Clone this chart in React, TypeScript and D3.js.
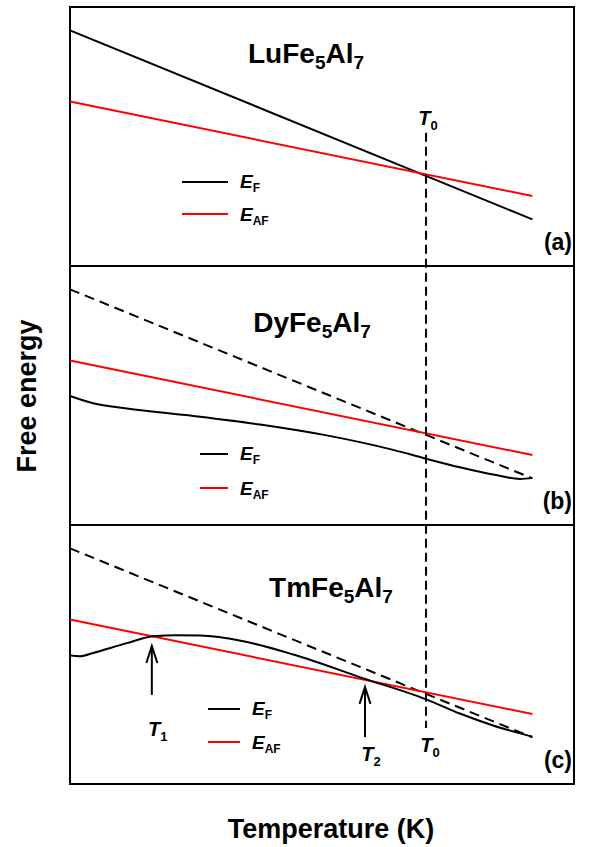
import React from 'react';
import * as d3 from 'd3';

// ---- data (arbitrary units) ----
const tempDomain = [0, 109];
const energyDomain = [0, 100];
const straightT = [0, 100];
const ferroStraight = [91, 18];
const antiferroStraight = [63.5, 27];
const dyT = [0, 5, 12.3, 26.7, 41.1, 55.5, 69.9, 77, 84.3, 91.5, 97.3, 100];
const dyEF = [49.8, 47.0, 45.0, 42.1, 38.8, 34.6, 29.0, 25.6, 22.3, 19.5, 17.8, 18.1];
const tmT = [0, 2.2, 5, 12.3, 18, 23.1, 28.1, 37.5, 48.3, 63.8, 77, 84.3, 91.5, 100];
const tmEF = [49.6, 49.3, 50.6, 54.4, 57.0, 57.4, 57.3, 55.1, 50.0, 40.6, 32.7, 27.2, 22.6, 18.3];
const T0 = 77;
const T1 = 17.7;
const T2 = 63.8;
const compounds = ['Lu', 'Dy', 'Tm'];
const panelLabels = ['(a)', '(b)', '(c)'];

// ---- layout ----
const W = 591, H = 847;
const left = 70, right = 574;
const panelTops = [7, 266, 525];
const panelH = 259;
const titleCx = [306, 312, 331];
const titleBase = [63, 332, 597];
const legendX = [[182, 228], [200, 228], [208, 240]];
const legendY = [[182, 214], [454, 488], [709, 742]];

const FONT = 'Liberation Sans, Arial, Helvetica, sans-serif';

const x = d3.scaleLinear().domain(tempDomain).range([left, right]);
const yScales = panelTops.map((t) =>
  d3.scaleLinear().domain(energyDomain).range([t + panelH, t])
);

function pts(ts: number[], es: number[]) {
  return ts.map((t, i) => [t, es[i]] as [number, number]);
}

function Title({ i }: { i: number }) {
  return (
    <text x={titleCx[i]} y={titleBase[i]} textAnchor="middle" fontFamily={FONT} fontWeight="bold" fontSize={28}>
      {compounds[i]}Fe
      <tspan fontSize={19} dy={6}>5</tspan>
      <tspan dy={-6}>Al</tspan>
      <tspan fontSize={19} dy={6}>7</tspan>
    </text>
  );
}

function Legend({ i }: { i: number }) {
  const [x1, x2] = legendX[i];
  const [ya, yb] = legendY[i];
  const tx = x2 + 12;
  return (
    <g>
      <line x1={x1} x2={x2} y1={ya} y2={ya} stroke="#000" strokeWidth={2} />
      <line x1={x1} x2={x2} y1={yb} y2={yb} stroke="#ff0000" strokeWidth={2} />
      <text x={tx} y={ya + 6} fontFamily={FONT} fontWeight="bold" fontSize={19}>
        <tspan fontStyle="italic">E</tspan>
        <tspan fontSize={12} dy={4}>F</tspan>
      </text>
      <text x={tx} y={yb + 7} fontFamily={FONT} fontWeight="bold" fontSize={19}>
        <tspan fontStyle="italic">E</tspan>
        <tspan fontSize={12} dy={4}>AF</tspan>
      </text>
    </g>
  );
}

function TLabel({ cx, y, sub }: { cx: number; y: number; sub: string }) {
  return (
    <text x={cx} y={y} textAnchor="middle" fontFamily={FONT} fontWeight="bold" fontSize={20}>
      <tspan fontStyle="italic">T</tspan>
      <tspan fontSize={13} dy={5}>{sub}</tspan>
    </text>
  );
}

function Arrow({ xp, yTip, yTail }: { xp: number; yTip: number; yTail: number }) {
  return (
    <g stroke="#000" strokeWidth={2} fill="none">
      <line x1={xp} x2={xp} y1={yTail} y2={yTip} />
      <polyline points={`${xp - 5.5},${yTip + 17} ${xp},${yTip} ${xp + 5.5},${yTip + 17}`} />
    </g>
  );
}

export default function App() {
  const line = d3.line<[number, number]>();
  const curve = d3.line<[number, number]>().curve(d3.curveMonotoneX);
  const straightF = pts(straightT, ferroStraight);
  const straightAF = pts(straightT, antiferroStraight);
  const dyData = pts(dyT, dyEF);
  const tmData = pts(tmT, tmEF);

  const mk = (yS: d3.ScaleLinear<number, number>) => (p: [number, number]) => [x(p[0]), yS(p[1])] as [number, number];

  const [ya, yb, yc] = yScales;
  const x0 = x(T0);

  return (
    <svg width={W} height={H} style={{ position: 'absolute', left: 0, top: 0 }}>
      <rect x={0} y={0} width={W} height={H} fill="#fff" />
      {/* panel frames */}
      {panelTops.map((t, i) => (
        <rect key={i} x={left} y={t} width={right - left} height={panelH} fill="none" stroke="#000" strokeWidth={2} />
      ))}

      {/* panel a */}
      <path d={line(straightF.map(mk(ya)))!} fill="none" stroke="#000" strokeWidth={2} />
      <path d={line(straightAF.map(mk(ya)))!} fill="none" stroke="#ff0000" strokeWidth={2} />

      {/* panel b */}
      <path d={line(straightF.map(mk(yb)))!} fill="none" stroke="#000" strokeWidth={2} strokeDasharray="10,6" />
      <path d={line(straightAF.map(mk(yb)))!} fill="none" stroke="#ff0000" strokeWidth={2} />
      <path d={curve(dyData.map(mk(yb)))!} fill="none" stroke="#000" strokeWidth={2} />

      {/* panel c */}
      <path d={line(straightF.map(mk(yc)))!} fill="none" stroke="#000" strokeWidth={2} strokeDasharray="10,6" />
      <path d={line(straightAF.map(mk(yc)))!} fill="none" stroke="#ff0000" strokeWidth={2} />
      <path d={curve(tmData.map(mk(yc)))!} fill="none" stroke="#000" strokeWidth={2} />

      {/* T0 vertical */}
      <line x1={x0} x2={x0} y1={ya(51.4)} y2={yc(21.6)} stroke="#000" strokeWidth={2} strokeDasharray="9,5" />
      <TLabel cx={x0 + 2} y={125} sub="0" />
      <TLabel cx={x0 + 4} y={752} sub="0" />

      {/* arrows */}
      <Arrow xp={x(T1)} yTip={yc(53.3)} yTail={yc(34.4)} />
      <TLabel cx={x(T1) + 6} y={736} sub="1" />
      <Arrow xp={x(T2)} yTip={yc(37.5)} yTail={yc(18.1)} />
      <TLabel cx={x(T2) + 6} y={761} sub="2" />

      {[0, 1, 2].map((i) => (
        <g key={i}>
          <Title i={i} />
          <Legend i={i} />
          <text x={572} y={panelTops[i] + 243} textAnchor="end" fontFamily={FONT} fontWeight="bold" fontSize={23}>
            {panelLabels[i]}
          </text>
        </g>
      ))}

      {/* axis titles */}
      <text transform="translate(36,396) rotate(-90)" textAnchor="middle" fontFamily={FONT} fontWeight="bold" fontSize={27}>
        Free energy
      </text>
      <text x={331} y={838} textAnchor="middle" fontFamily={FONT} fontWeight="bold" fontSize={27}>
        Temperature (K)
      </text>
    </svg>
  );
}
